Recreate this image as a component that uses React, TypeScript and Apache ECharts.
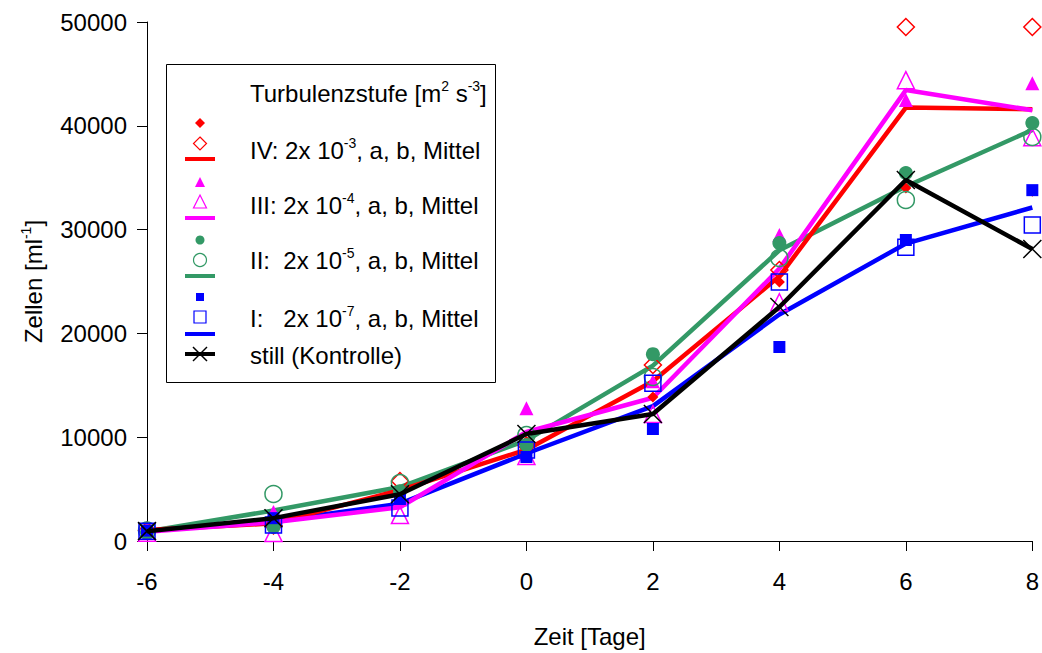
import React, { useEffect, useRef } from "react";
import * as echarts from "echarts";

const xs = [-6, -4, -2, 0, 2, 4, 6, 8];
const xTicks = [-6, -4, -2, 0, 2, 4, 6, 8];
const yTicks = [0, 10000, 20000, 30000, 40000, 50000];

// IV: 2x10^-3
const ivA = [1100, 1900, 4000, 8400, 13870, 24950, 34000, 33700];
const ivB = [1000, 1500, 5780, 9200, 16950, 26100, 49520, 49520];
const ivM = [1050, 1700, 4900, 8800, 15400, 25500, 41760, 41600];
// III: 2x10^-4
const iiiA = [1000, 2800, 4000, 12800, 15400, 29480, 42480, 44100];
const iiiB = [800, 770, 2500, 8200, 12230, 23000, 44400, 38900];
const iiiM = [900, 1800, 3250, 10500, 13800, 26240, 43440, 41500];
// II: 2x10^-5
const iiA = [850, 1350, 4800, 9250, 18000, 28700, 35450, 40270];
const iiB = [1000, 4530, 5590, 10200, 15800, 27260, 32850, 38920];
const iiM = [920, 2940, 5200, 9700, 16900, 28000, 34150, 39600];
// I: 2x10^-7
const iA = [1000, 2200, 4050, 8090, 10790, 18690, 29000, 33800];
const iB = [950, 1540, 3180, 8770, 15200, 24950, 28300, 30450];
const iM = [980, 1870, 3600, 8430, 13000, 21820, 28650, 32130];
// still (Kontrolle)
const still = [950, 2200, 4500, 10300, 12230, 22540, 34780, 28130];

const RED = "#ff0000";
const MAG = "#ff00ff";
const GRN = "#339966";
const BLU = "#0000ff";
const BLK = "#000000";
const FONT = "'Liberation Sans', Arial, sans-serif";
const FS = 24;

const pts = (vals: number[]) => xs.map((x, i) => [x, vals[i]]);

const lineSeries = (name: string, vals: number[], color: string) => ({
  type: "line",
  name,
  data: pts(vals),
  symbol: "none",
  lineStyle: { color, width: 4.5 },
  z: 2,
});

const scatterSeries = (
  name: string,
  vals: number[],
  color: string,
  symbol: string,
  size: number,
  filled: boolean
) => ({
  type: "scatter",
  name,
  data: pts(vals),
  symbol,
  symbolSize: size,
  itemStyle: filled
    ? { color, borderWidth: 0, opacity: 1 }
    : { color: "rgba(0,0,0,0)", borderColor: color, borderWidth: 1.5, opacity: 1 },
  z: 3,
});

const supRich = {
  b: { fontSize: FS, fontFamily: FONT, color: "#000", lineHeight: 28 },
  s: { fontSize: 14, fontFamily: FONT, color: "#000", verticalAlign: "top", lineHeight: 14 },
};

export default function App() {
  const ref = useRef<HTMLDivElement>(null);
  useEffect(() => {
    if (!ref.current) return;
    const chart = echarts.init(ref.current, null, { renderer: "svg" });

    const lx = 200;
    const legendText = (y: number, text: string) => ({
      type: "text",
      x: 250,
      y,
      style: { text, rich: supRich, verticalAlign: "middle", align: "left" },
    });
    const legendLine = (y: number, color: string) => ({
      type: "line",
      shape: { x1: 185, y1: y, x2: 215, y2: y },
      style: { stroke: color, lineWidth: 4 },
    });

    const graphic: any[] = [
      {
        type: "rect",
        shape: { x: 166.5, y: 64.5, width: 329, height: 318 },
        style: { fill: "#fff", stroke: "#000", lineWidth: 1 },
        z: 10,
      },
      legendText(93, "{b|Turbulenzstufe [m}{s|2}{b| s}{s|-3}{b|]}"),
      // IV
      { type: "polygon", shape: { points: [[lx, 118], [lx + 5, 123], [lx, 128], [lx - 5, 123]] }, style: { fill: RED } },
      { type: "polygon", shape: { points: [[lx, 137], [lx + 6.5, 143.5], [lx, 150], [lx - 6.5, 143.5]] }, style: { fill: "none", stroke: RED, lineWidth: 1.2 } },
      legendLine(159, RED),
      legendText(150, "{b|IV: 2x 10}{s|-3}{b|, a, b, Mittel}"),
      // III
      { type: "polygon", shape: { points: [[lx, 177], [lx + 5, 187], [lx - 5, 187]] }, style: { fill: MAG } },
      { type: "polygon", shape: { points: [[lx, 195], [lx + 6.5, 208], [lx - 6.5, 208]] }, style: { fill: "none", stroke: MAG, lineWidth: 1.2 } },
      legendLine(218, MAG),
      legendText(205, "{b|III: 2x 10}{s|-4}{b|, a, b, Mittel}"),
      // II
      { type: "circle", shape: { cx: lx, cy: 240, r: 4.5 }, style: { fill: GRN } },
      { type: "circle", shape: { cx: lx, cy: 260, r: 6.5 }, style: { fill: "none", stroke: GRN, lineWidth: 1.2 } },
      legendLine(276, GRN),
      legendText(260, "{b|II:  2x 10}{s|-5}{b|, a, b, Mittel}"),
      // I
      { type: "rect", shape: { x: lx - 4, y: 293, width: 8, height: 8 }, style: { fill: BLU } },
      { type: "rect", shape: { x: lx - 6, y: 311, width: 12, height: 12 }, style: { fill: "none", stroke: BLU, lineWidth: 1.2 } },
      legendLine(334, BLU),
      legendText(318, "{b|I:   2x 10}{s|-7}{b|, a, b, Mittel}"),
      // still
      legendLine(354, BLK),
      { type: "line", shape: { x1: lx - 7, y1: 347, x2: lx + 7, y2: 361 }, style: { stroke: BLK, lineWidth: 1.5 } },
      { type: "line", shape: { x1: lx - 7, y1: 361, x2: lx + 7, y2: 347 }, style: { stroke: BLK, lineWidth: 1.5 } },
      legendText(355, "{b|still (Kontrolle)}"),
    ].map((g, i) => (i === 0 ? g : { ...g, z: 11 }));

    const option: any = {
      animation: false,
      backgroundColor: "#fff",
      grid: { left: 147, right: 8, top: 22, bottom: 112, containLabel: false },
      xAxis: {
        type: "value",
        min: xTicks[0],
        max: xTicks[xTicks.length - 1],
        interval: 2,
        name: "Zeit [Tage]",
        nameLocation: "middle",
        nameGap: 83,
        nameTextStyle: { fontSize: FS, fontFamily: FONT, color: "#000" },
        axisLine: { onZero: false, lineStyle: { color: "#000", width: 1 } },
        axisTick: { length: 10, lineStyle: { color: "#000" } },
        axisLabel: { fontSize: FS, fontFamily: FONT, color: "#000", margin: 28, formatter: (v: number) => String(v) },
        splitLine: { show: false },
      },
      yAxis: {
        type: "value",
        min: yTicks[0],
        max: yTicks[yTicks.length - 1],
        interval: 10000,
        name: "{b|Zellen [ml}{s|-1}{b|]}",
        nameLocation: "middle",
        nameGap: 100,
        nameRotate: 90,
        nameTextStyle: { rich: supRich },
        axisLine: { show: true, onZero: false, lineStyle: { color: "#000", width: 1 } },
        axisTick: { show: true, length: 10, lineStyle: { color: "#000" } },
        axisLabel: { fontSize: FS, fontFamily: FONT, color: "#000", margin: 20, formatter: (v: number) => String(v) },
        splitLine: { show: false },
      },
      graphic,
      series: [
        lineSeries("II Mittel", iiM, GRN),
        lineSeries("I Mittel", iM, BLU),
        lineSeries("IV Mittel", ivM, RED),
        lineSeries("III Mittel", iiiM, MAG),
        scatterSeries("IV a", ivA, RED, "diamond", 11, true),
        scatterSeries("IV b", ivB, RED, "diamond", 17, false),
        scatterSeries("III a", iiiA, MAG, "triangle", 14, true),
        scatterSeries("III b", iiiB, MAG, "triangle", 17, false),
        scatterSeries("II a", iiA, GRN, "circle", 14, true),
        scatterSeries("II b", iiB, GRN, "circle", 17, false),
        scatterSeries("I a", iA, BLU, "rect", 12, true),
        scatterSeries("I b", iB, BLU, "rect", 16, false),
        {
          type: "line",
          name: "still (Kontrolle)",
          data: pts(still),
          symbol: "path://M0,0 L10,10 M10,0 L0,10",
          symbolSize: 18,
          showAllSymbol: true,
          itemStyle: { color: "rgba(0,0,0,0)", borderColor: BLK, borderWidth: 1.5, opacity: 1 },
          lineStyle: { color: BLK, width: 4.5 },
          z: 4,
        },
      ],
    };
    chart.setOption(option);
    return () => chart.dispose();
  }, []);
  return (
    <div
      ref={ref}
      style={{ position: "fixed", left: 0, top: 0, width: 1042, height: 653 }}
    />
  );
}
